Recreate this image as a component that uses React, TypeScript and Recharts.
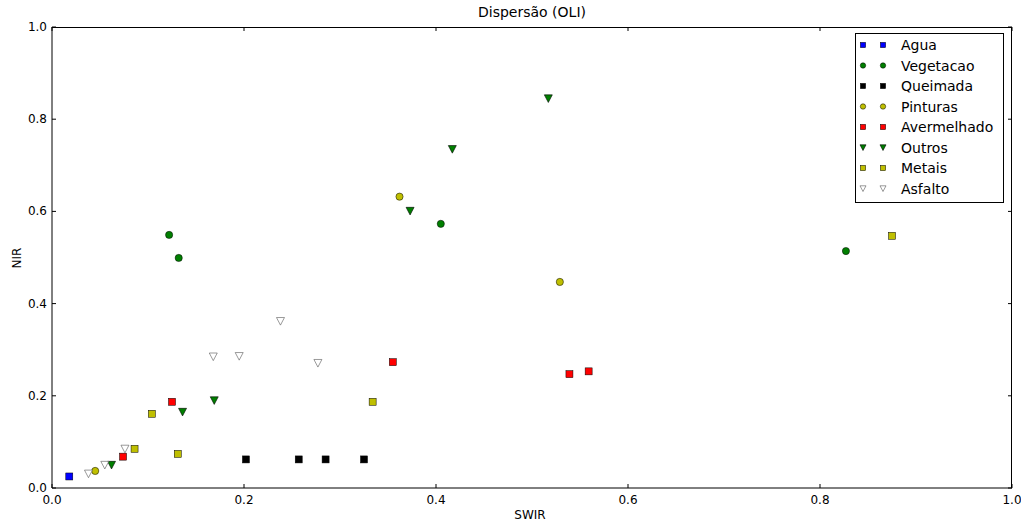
import { ScatterChart, Scatter, XAxis, YAxis } from 'recharts';

document.body.style.margin = '0';

// Valores (SWIR, NIR)
const agua = [[0.018, 0.025]];
const vegetacao = [[0.122, 0.549], [0.132, 0.499], [0.405, 0.573], [0.827, 0.514]];
const queimada = [[0.202, 0.062], [0.257, 0.062], [0.285, 0.062], [0.325, 0.062]];
const pinturas = [[0.045, 0.037], [0.362, 0.632], [0.529, 0.447]];
const avermelhado = [[0.074, 0.068], [0.125, 0.187], [0.355, 0.273], [0.539, 0.247], [0.559, 0.253]];
const outros = [[0.062, 0.050], [0.136, 0.165], [0.169, 0.190], [0.373, 0.601], [0.417, 0.735], [0.517, 0.845]];
const metais = [[0.086, 0.085], [0.104, 0.161], [0.131, 0.074], [0.334, 0.187], [0.875, 0.547]];
const asfalto = [[0.038, 0.031], [0.055, 0.050], [0.076, 0.085], [0.168, 0.285], [0.195, 0.286], [0.238, 0.362], [0.277, 0.271]];

const ticks = [0, 0.2, 0.4, 0.6, 0.8, 1.0];
const font = 'DejaVu Sans, sans-serif';

// layout do grafico
const W = 1021;
const H = 521;
const margin = { top: 27, right: 9, left: 12, bottom: 3 };
const yAxisW = 40;
const xAxisH = 30;
const plotL = margin.left + yAxisW;
const plotW = W - margin.left - margin.right - yAxisW;
const plotH = H - margin.top - margin.bottom - xAxisH;

type Kind = 'square' | 'circle' | 'down';

const series: { name: string; data: number[][]; kind: Kind; fill: string; stroke: string }[] = [
    { name: 'Agua', data: agua, kind: 'square', fill: '#0000ff', stroke: '#000' },
    { name: 'Vegetacao', data: vegetacao, kind: 'circle', fill: '#007f00', stroke: '#000' },
    { name: 'Queimada', data: queimada, kind: 'square', fill: '#000000', stroke: '#000' },
    { name: 'Pinturas', data: pinturas, kind: 'circle', fill: '#bfbf00', stroke: '#000' },
    { name: 'Avermelhado', data: avermelhado, kind: 'square', fill: '#ff0000', stroke: '#000' },
    { name: 'Outros', data: outros, kind: 'down', fill: '#007f00', stroke: '#000' },
    { name: 'Metais', data: metais, kind: 'square', fill: '#bfbf00', stroke: '#000' },
    { name: 'Asfalto', data: asfalto, kind: 'down', fill: '#ffffff', stroke: '#555' },
];

function Marker({ cx, cy, kind, fill, stroke, s = 1 }: { cx: number; cy: number; kind: Kind; fill: string; stroke: string; s?: number }) {
    if (kind === 'square') {
        const h = 3.5 * s;
        return <rect x={cx - h} y={cy - h} width={2 * h} height={2 * h} fill={fill} stroke={stroke} strokeWidth={0.5} />;
    }
    if (kind === 'circle') {
        return <circle cx={cx} cy={cy} r={3.6 * s} fill={fill} stroke={stroke} strokeWidth={0.5} />;
    }
    const w = 4 * s;
    return (
        <polygon
            points={`${cx - w},${cy - w * 0.9} ${cx + w},${cy - w * 0.9} ${cx},${cy + w}`}
            fill={fill}
            stroke={stroke}
            strokeWidth={0.6}
        />
    );
}

// ticks para dentro (estilo matplotlib)
const BottomTick = ({ x, y, payload }: any) => (
    <g>
        <line x1={x} x2={x} y1={y} y2={Number(y) - 4} stroke="#000" />
        <text x={x} y={Number(y) + 16} textAnchor="middle" fontSize={12} fontFamily={font} fill="#000">
            {Number(payload.value).toFixed(1)}
        </text>
    </g>
);
const LeftTick = ({ x, y, payload }: any) => (
    <g>
        <line x1={x} x2={Number(x) + 4} y1={y} y2={y} stroke="#000" />
        <text x={Number(x) - 5} y={Number(y) + 4} textAnchor="end" fontSize={12} fontFamily={font} fill="#000">
            {Number(payload.value).toFixed(1)}
        </text>
    </g>
);

// moldura de cima/direita com as marcas
function Frame() {
    return (
        <>
            <div
                style={{
                    position: 'absolute',
                    left: plotL,
                    top: margin.top,
                    width: plotW,
                    height: plotH,
                    boxSizing: 'border-box',
                    borderTop: '1px solid #000',
                    borderRight: '1px solid #000',
                    pointerEvents: 'none',
                    zIndex: 2,
                }}
            />
            <svg width={W} height={H} style={{ position: 'absolute', left: 0, top: 0, pointerEvents: 'none', zIndex: 2 }}>
                {ticks.map((t) => (
                    <line key={'t' + t} x1={plotL + t * plotW} x2={plotL + t * plotW} y1={margin.top} y2={margin.top + 4} stroke="#000" />
                ))}
                {ticks.map((t) => (
                    <line
                        key={'r' + t}
                        x1={plotL + plotW}
                        x2={plotL + plotW - 4}
                        y1={margin.top + plotH - t * plotH}
                        y2={margin.top + plotH - t * plotH}
                        stroke="#000"
                    />
                ))}
            </svg>
        </>
    );
}

function LegendBox() {
    return (
        <svg width={150} height={171} style={{ display: 'block' }}>
            <rect x={0.5} y={0.5} width={148} height={169} fill="#fff" stroke="#000" strokeWidth={1} />
            {series.map((s, i) => {
                const cy = 12 + i * 20.5;
                return (
                    <g key={s.name}>
                        <Marker cx={8} cy={cy} kind={s.kind} fill={s.fill} stroke={s.stroke} s={0.75} />
                        <Marker cx={28} cy={cy} kind={s.kind} fill={s.fill} stroke={s.stroke} s={0.75} />
                        <text x={46} y={cy + 5} fontSize={14} fontFamily={font} fill="#000">{s.name}</text>
                    </g>
                );
            })}
        </svg>
    );
}

export default function App() {
    return (
        <div style={{ position: 'relative', width: W, height: H, background: '#fff', fontFamily: font }}>
            <ScatterChart width={W} height={H} margin={margin}>
                <XAxis
                    type="number"
                    dataKey="x"
                    domain={[0, 1]}
                    ticks={ticks}
                    tickSize={0}
                    tickMargin={0}
                    tick={<BottomTick />}
                    height={xAxisH}
                    axisLine={{ stroke: '#000' }}
                />
                <YAxis
                    type="number"
                    dataKey="y"
                    domain={[0, 1]}
                    ticks={ticks}
                    tickSize={0}
                    tickMargin={0}
                    tick={<LeftTick />}
                    width={yAxisW}
                    axisLine={{ stroke: '#000' }}
                />
                {series.map((s) => (
                    <Scatter
                        key={s.name}
                        name={s.name}
                        data={s.data.map(([x, y]) => ({ x, y }))}
                        isAnimationActive={false}
                        shape={(p: any) => <Marker cx={p.cx} cy={p.cy} kind={s.kind} fill={s.fill} stroke={s.stroke} />}
                    />
                ))}
            </ScatterChart>
            <Frame />
            <div style={{ position: 'absolute', left: 855, top: 33, zIndex: 3 }}>
                <LegendBox />
            </div>
            <div style={{ position: 'absolute', left: 0, width: 1064, top: 4, textAlign: 'center', fontSize: 14 }}>
                Dispersão (OLI)
            </div>
            <div style={{ position: 'absolute', left: 52, width: 956, top: 508, textAlign: 'center', fontSize: 12 }}>
                SWIR
            </div>
            <div
                style={{
                    position: 'absolute',
                    left: 17,
                    top: 258,
                    fontSize: 12,
                    transform: 'translate(-50%, -50%) rotate(-90deg)',
                }}
            >
                NIR
            </div>
        </div>
    );
}
